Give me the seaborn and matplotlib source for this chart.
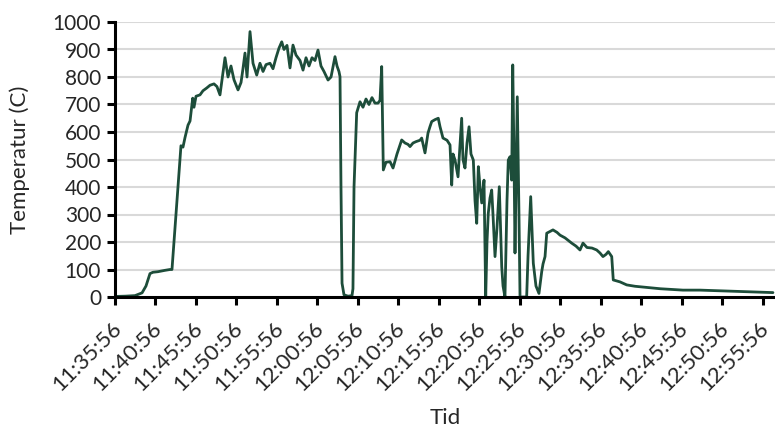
import matplotlib
matplotlib.use("Agg")
import matplotlib.pyplot as plt
import matplotlib.transforms as mtransforms
import seaborn as sns
import pandas as pd
import numpy as np

# minutes after 11:35:56
minutes = [0, 1.24, 2.47, 3.34, 3.83, 4.32, 4.69, 5.31, 6.18, 6.80, 7.04, 7.41, 7.78, 8.15, 8.40,
           8.65, 9.02, 9.27, 9.60, 9.76, 10.01, 10.50, 10.87, 11.33, 11.74, 12.23, 12.60, 12.97,
           13.22, 13.59, 13.96, 14.33, 14.70, 15.20, 15.57, 15.81, 16.06, 16.31, 16.68, 17.05,
           17.51, 17.91, 18.29, 18.66, 19.15, 19.52, 19.89, 20.26, 20.60, 20.88, 21.25, 21.62,
           21.99, 22.36, 22.86, 23.23, 23.60, 23.97, 24.34, 24.71, 25.08, 25.45, 25.82, 26.32,
           26.69, 27.18, 27.43, 27.67, 27.80, 27.92, 28.05, 28.29, 28.79, 29.28, 29.40, 29.53,
           29.86, 30.27, 30.64, 31.01, 31.38, 31.75, 32.12, 32.49, 32.74, 32.95, 33.15, 33.48,
           33.98, 34.35, 34.84, 35.42, 35.83, 36.20, 36.45, 36.82, 37.19, 37.68, 37.89, 38.30,
           38.67, 38.92, 39.13, 39.54, 39.94, 40.15, 40.52, 41.02, 41.39, 41.60, 41.76, 42.01,
           42.38, 42.62, 42.83, 42.99, 43.24, 43.49, 43.74, 43.98, 44.27, 44.48, 44.69, 44.89,
           45.10, 45.31, 45.59, 45.80, 45.96, 46.12, 46.33, 46.54, 46.70, 46.95, 47.19, 47.48,
           47.78, 47.94, 48.18, 48.43, 48.59, 48.80, 49.01, 49.14, 49.30, 49.42, 49.70, 49.91,
           50.04, 50.86, 51.03, 51.36, 51.68, 52.01, 52.38, 52.72, 52.88, 53.13, 53.34, 53.74,
           54.11, 54.61, 54.98, 55.60, 56.42, 56.96, 57.45, 57.82, 58.31, 58.93, 59.51, 59.92,
           60.29, 60.66, 60.95, 61.37, 61.56, 62.39, 63.22, 64.25, 65.69, 67.38, 70.17, 72.28,
           74.34, 77.22, 79.44, 81.29]

temperature = [2, 3, 5, 15, 40, 85, 90, 92, 97, 100, 100, 250, 400, 550, 545,
               580, 625, 640, 723, 690, 730, 735, 750, 760, 770, 775, 765, 735,
               790, 870, 800, 840, 790, 753, 780, 830, 887, 800, 965, 850,
               807, 850, 820, 845, 850, 830, 870, 905, 928, 900, 915, 833,
               916, 880, 860, 825, 870, 840, 870, 860, 898, 840, 820, 789,
               800, 874, 840, 820, 801, 400, 50, 8, 3, 5, 30, 400,
               670, 710, 690, 720, 700, 725, 705, 705, 715, 838, 462, 490,
               492, 469, 520, 571, 560, 555, 547, 560, 565, 570, 578, 524,
               596, 620, 638, 645, 650, 620, 578, 570, 553, 407, 520, 498,
               437, 550, 650, 500, 469, 560, 619, 520, 498, 350, 268, 474,
               400, 342, 425, 0, 200, 305, 360, 389, 300, 147, 250, 401,
               110, 40, 0, 350, 498, 510, 425, 844, 500, 160, 728, 300,
               0, 0, 150, 365, 123, 40, 13, 92, 120, 147, 232, 238,
               244, 235, 225, 215, 196, 185, 171, 196, 180, 178, 171, 160,
               147, 155, 165, 147, 62, 55, 44, 39, 35, 30, 25, 25,
               23, 20, 18, 16]

tick_labels = ["11:35:56", "11:40:56", "11:45:56", "11:50:56", "11:55:56", "12:00:56",
               "12:05:56", "12:10:56", "12:15:56", "12:20:56", "12:25:56", "12:30:56",
               "12:35:56", "12:40:56", "12:45:56", "12:50:56", "12:55:56"]
y_ticks = [0, 100, 200, 300, 400, 500, 600, 700, 800, 900, 1000]

sns.set_style("white")
plt.rcParams['font.family'] = ['Lato', 'DejaVu Sans']

df = pd.DataFrame({"Tid": minutes, "Temperatur": temperature})

fig = plt.figure(figsize=(7.75, 4.30), dpi=100)
ax = fig.add_axes([115/775, 1 - 297/430, 660/775, 275/430])

for v in y_ticks[1:]:
    ax.axhline(v, color="#d9d9d9", lw=1.5, zorder=0)

sns.lineplot(data=df, x="Tid", y="Temperatur", ax=ax, color="#1d4d3a", lw=2.0,
             estimator=None, sort=False)

ax.set_xlim(0, 660/8.094)
ax.set_ylim(0, 1000)
ax.set_yticks(y_ticks)
ax.set_yticklabels([str(v) for v in y_ticks], fontsize=15)
ax.set_xticks([5 * i for i in range(len(tick_labels))])
ax.set_xticklabels(tick_labels, rotation=45, ha="right", rotation_mode="anchor", fontsize=16)

for s in ["top", "right"]:
    ax.spines[s].set_visible(False)
for s in ["left", "bottom"]:
    ax.spines[s].set_linewidth(2.2)
    ax.spines[s].set_color("black")
ax.tick_params(axis="both", direction="out", length=6, width=2.2, color="black",
               bottom=True, left=True)
ax.tick_params(axis="x", pad=9)
ax.tick_params(axis="y", pad=4)

shift = mtransforms.ScaledTranslation(-4/100, 0, fig.dpi_scale_trans)
for lab in ax.get_xticklabels():
    lab.set_transform(lab.get_transform() + shift)

ax.set_xlabel("Tid", fontsize=16, labelpad=10)
ax.set_ylabel("Temperatur (C)", fontsize=16, labelpad=16)

fig.savefig("out.png", dpi=100)
